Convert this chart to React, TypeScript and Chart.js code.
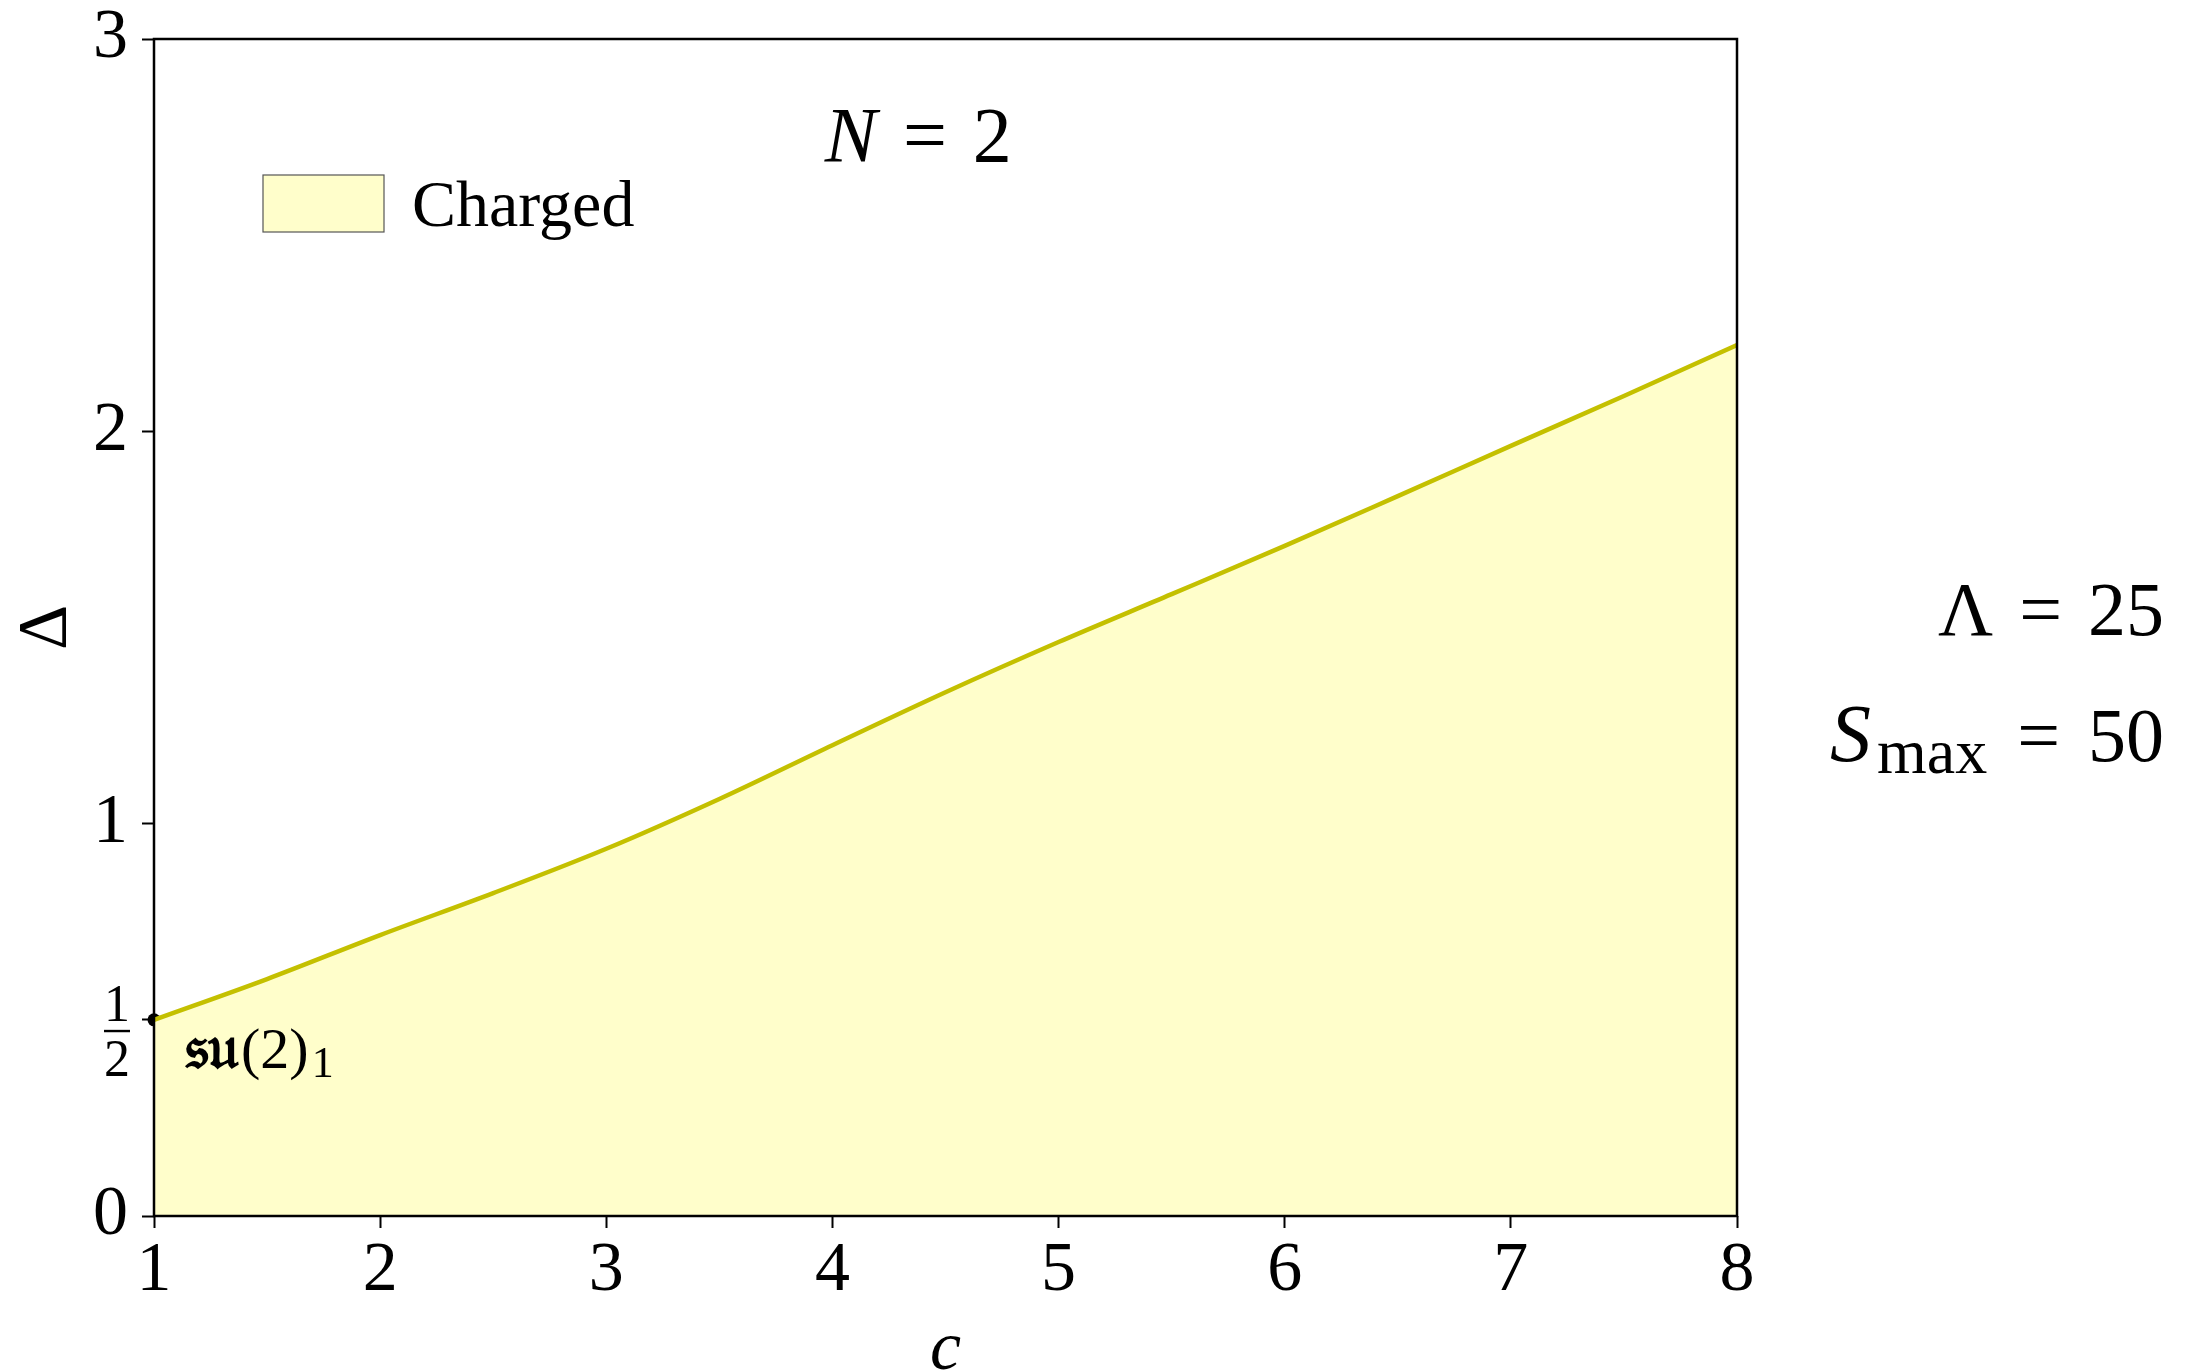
import { useEffect, useRef } from 'react';
import { Chart, registerables } from 'chart.js';

Chart.register(...registerables);

// Upper edge of the charged region, Δ(c)
const cValues = [1, 1.5, 2, 2.5, 3, 3.5, 4, 4.5, 5, 5.5, 6, 6.5, 7, 7.5, 8];
const deltaBound = [0.5, 0.604, 0.716, 0.823, 0.936, 1.063, 1.2, 1.335, 1.463, 1.585, 1.708, 1.835, 1.963, 2.09, 2.22];

// Marked point: su(2)_1 WZW model
const markC = [1];
const markDelta = [0.5];

const xTicks = [1, 2, 3, 4, 5, 6, 7, 8];
const yTicks = [0, 0.5, 1, 2, 3];

const seriesLabel = 'Charged';
const panelTitle = { symbol: 'N', value: '2' };
const cutoffLabel = { symbol: 'Λ', value: '25' };
const spinLabel = { symbol: 'S', sub: 'max', value: '50' };

const SERIF = '"Liberation Serif", "DejaVu Serif", serif';
const LINE = '#c4c000';
const FILL = '#fffecb';

type Run = { text: string; size: number; italic?: boolean; bold?: boolean; dy?: number; gap?: number };

function runFont(r: Run) {
  return `${r.italic ? 'italic ' : ''}${r.bold ? 'bold ' : ''}${r.size}px ${SERIF}`;
}

function drawRuns(ctx: CanvasRenderingContext2D, runs: Run[], x: number, y: number, align: 'left' | 'center' | 'right') {
  ctx.save();
  ctx.textBaseline = 'alphabetic';
  ctx.textAlign = 'left';
  ctx.fillStyle = '#000';
  const widths = runs.map((r) => {
    ctx.font = runFont(r);
    return ctx.measureText(r.text).width;
  });
  const total = widths.reduce((a, w, i) => a + w + (runs[i].gap || 0), 0);
  let cx = align === 'left' ? x : align === 'center' ? x - total / 2 : x - total;
  runs.forEach((r, i) => {
    cx += r.gap || 0;
    ctx.font = runFont(r);
    ctx.fillText(r.text, cx, y + (r.dy || 0));
    cx += widths[i];
  });
  ctx.restore();
}

const decorations = {
  id: 'decorations',
  afterDraw(chart: Chart) {
    const { ctx, chartArea: a, scales } = chart;
    const xs = scales.x;
    const ys = scales.y;

    // frame around the plotting area
    ctx.save();
    ctx.strokeStyle = '#000';
    ctx.lineWidth = 2.5;
    ctx.strokeRect(a.left, a.top, a.right - a.left, a.bottom - a.top);
    ctx.restore();

    // fraction tick label at Δ = 1/2
    const yHalf = ys.getPixelForValue(0.5);
    const fx = a.left - 37;
    ctx.save();
    ctx.fillStyle = '#000';
    ctx.font = `52px ${SERIF}`;
    ctx.textAlign = 'center';
    ctx.textBaseline = 'alphabetic';
    ctx.fillText('1', fx, yHalf + 1);
    ctx.fillText('2', fx, yHalf + 56);
    ctx.fillRect(fx - 13, yHalf + 10, 26, 2.4);
    ctx.restore();

    // su(2)_1 label next to the marked point
    const px = xs.getPixelForValue(markC[0]);
    const py = ys.getPixelForValue(markDelta[0]);
    drawRuns(ctx, [
      { text: '𝔰𝔲', size: 62, bold: true },
      { text: '(2)', size: 58, gap: 2 },
      { text: '1', size: 44, dy: 9, gap: 3 },
    ], px + 31, py + 48, 'left');

    // panel title N = 2
    drawRuns(ctx, [
      { text: panelTitle.symbol, size: 78, italic: true },
      { text: '=', size: 78, gap: 26 },
      { text: panelTitle.value, size: 78, gap: 26 },
    ], xs.getPixelForValue(4.38), ys.getPixelForValue(2.69), 'center');

    // legend entry
    const bx = a.left + 109;
    const by = a.top + 136;
    ctx.save();
    ctx.fillStyle = FILL;
    ctx.fillRect(bx, by, 121, 57);
    ctx.strokeStyle = '#555';
    ctx.lineWidth = 1.2;
    ctx.strokeRect(bx, by, 121, 57);
    ctx.restore();
    drawRuns(ctx, [{ text: seriesLabel, size: 66 }], bx + 149, by + 51, 'left');

    // run parameters at the right side
    const rx = chart.width - 33;
    drawRuns(ctx, [
      { text: cutoffLabel.symbol, size: 76 },
      { text: '=', size: 76, gap: 26 },
      { text: cutoffLabel.value, size: 76, gap: 26 },
    ], rx, 635, 'right');
    drawRuns(ctx, [
      { text: spinLabel.symbol, size: 82, italic: true },
      { text: spinLabel.sub, size: 64, dy: 12, gap: 6 },
      { text: '=', size: 76, gap: 30 },
      { text: spinLabel.value, size: 76, gap: 28 },
    ], rx, 761, 'right');
  },
};

export default function App() {
  const ref = useRef<HTMLCanvasElement>(null);

  useEffect(() => {
    document.body.style.margin = '0';
    document.body.style.overflow = 'hidden';
    const canvas = ref.current;
    if (!canvas) return;
    const tickFont = { family: SERIF, size: 70 };
    const chart = new Chart(canvas, {
      type: 'line',
      data: {
        datasets: [
          {
            label: seriesLabel,
            data: cValues.map((c, i) => ({ x: c, y: deltaBound[i] })),
            borderColor: LINE,
            backgroundColor: FILL,
            borderWidth: 4.5,
            fill: 'origin',
            pointRadius: 0,
            cubicInterpolationMode: 'monotone',
          },
          {
            label: 'su(2)_1',
            data: markC.map((c, i) => ({ x: c, y: markDelta[i] })),
            showLine: false,
            fill: false,
            pointRadius: 6.5,
            pointBackgroundColor: '#000',
            pointBorderWidth: 0,
            clip: false,
          } as any,
        ],
      },
      options: {
        responsive: false,
        devicePixelRatio: 1,
        animation: false,
        events: [],
        layout: { padding: { top: 39, right: 460, left: 0, bottom: 0 } },
        plugins: { legend: { display: false }, tooltip: { enabled: false } },
        scales: {
          x: {
            type: 'linear',
            min: 1,
            max: 8,
            afterBuildTicks: (s: any) => {
              s.ticks = xTicks.map((v) => ({ value: v }));
            },
            afterFit: (s: any) => {
              s.height = 156;
              s.paddingLeft = 0;
              s.paddingRight = 0;
            },
            ticks: { font: tickFont, color: '#000', padding: 2, maxRotation: 0, autoSkip: false },
            grid: { drawOnChartArea: false, drawTicks: true, tickLength: 12, tickWidth: 2, tickColor: '#000', color: '#000' },
            border: { display: false },
            title: {
              display: true,
              text: 'c',
              color: '#000',
              font: { family: SERIF, size: 70, style: 'italic', lineHeight: 0.6 },
              padding: { top: 0, bottom: 0 },
            },
          },
          y: {
            type: 'linear',
            min: 0,
            max: 3,
            afterBuildTicks: (s: any) => {
              s.ticks = yTicks.map((v) => ({ value: v }));
            },
            afterFit: (s: any) => {
              s.width = 154;
              s.paddingTop = 0;
              s.paddingBottom = 0;
            },
            ticks: {
              font: tickFont,
              color: '#000',
              padding: 14,
              autoSkip: false,
              callback: (v: any) => (v === 0.5 ? '' : String(v)),
            },
            grid: { drawOnChartArea: false, drawTicks: true, tickLength: 12, tickWidth: 2, tickColor: '#000', color: '#000' },
            border: { display: false },
            title: {
              display: true,
              text: 'Δ',
              color: '#000',
              font: { family: SERIF, size: 70 },
              padding: { top: 6, bottom: 0 },
            },
          },
        },
      },
      plugins: [decorations],
    });
    return () => chart.destroy();
  }, []);

  return (
    <canvas
      ref={ref}
      width={2197}
      height={1372}
      style={{ position: 'fixed', left: 0, top: 0, width: 2197, height: 1372 }}
    />
  );
}
